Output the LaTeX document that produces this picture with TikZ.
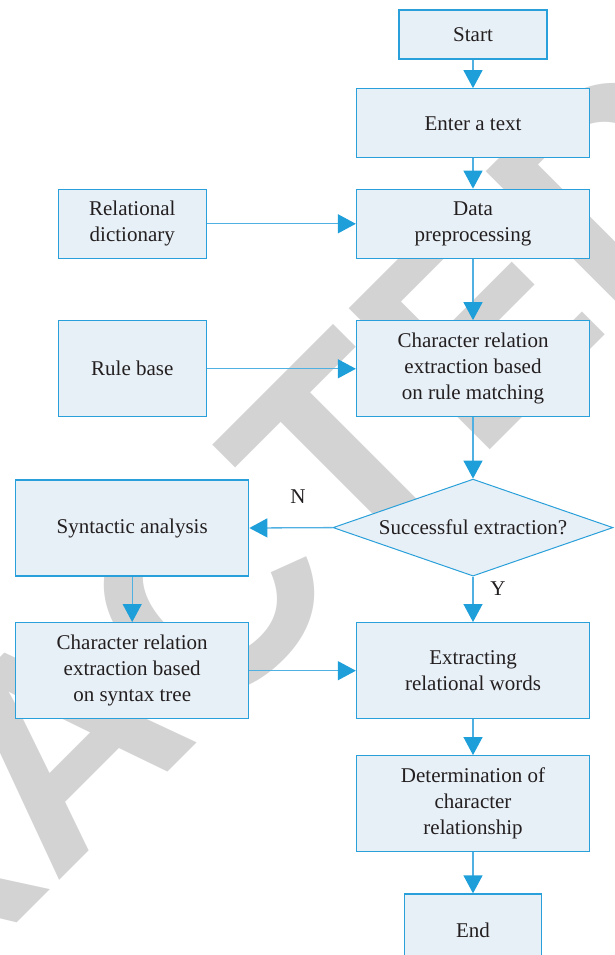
\documentclass[tikz,border=0pt]{standalone}
\usepackage{fontspec}
\setmainfont{Liberation Serif}
\newfontfamily\wmfamily{Liberation Sans}
\usetikzlibrary{arrows.meta,shapes.geometric}
\definecolor{boxline}{RGB}{41,160,218}
\definecolor{boxfill}{RGB}{232,240,247}
\definecolor{arrline}{RGB}{80,176,225}
\definecolor{tipcol}{RGB}{31,159,217}
\definecolor{txt}{RGB}{35,31,32}
\definecolor{wmgray}{RGB}{211,211,211}
\begin{document}
\begin{tikzpicture}[x=1pt,y=-1pt,
  box/.style={draw=boxline, fill=boxfill, line width=1.3pt, align=center, text=txt, inner sep=0pt, font=\fontsize{21}{26}\selectfont},
  decision/.style={diamond, aspect=2.887, draw=boxline, fill=boxfill, line width=1pt, text=txt, inner sep=0pt, font=\fontsize{21}{26}\selectfont},
  conn/.style={draw=arrline, line width=1.3pt, -{Triangle[length=18pt,width=19pt,color=tipcol]}},
  lbl/.style={text=txt, font=\fontsize{21}{26}\selectfont, inner sep=0pt}]
\useasboundingbox (0,0) rectangle (614,955);
\clip (0,0) rectangle (614,955);
\node[anchor=base, rotate=45, text=wmgray, inner sep=0pt, font=\wmfamily\bfseries\fontsize{290}{290}\selectfont] (wm) at (129,811) {RETRACTED};

\node[box, minimum width=148pt, minimum height=49pt] (start) at (473,34.5) {Start};
\node[box, minimum width=233pt, minimum height=69pt] (enter) at (473,123.3) {Enter a text};
\node[box, minimum width=233pt, minimum height=69pt] (data) at (473,223.8) {Data\\preprocessing};
\node[box, minimum width=148pt, minimum height=69pt] (dict) at (132.3,223.8) {Relational\\dictionary};
\node[box, minimum width=148pt, minimum height=96pt] (rules) at (132.3,368.8) {Rule base};
\node[box, minimum width=233pt, minimum height=96pt] (match) at (473,368.8) {Character relation\\extraction based\\on rule matching};
\node[decision, minimum width=280pt, minimum height=97pt] (succ) at (473,527.6) {Successful extraction?};
\node[box, minimum width=233pt, minimum height=96pt] (synt) at (132.2,528) {Syntactic analysis};
\node[box, minimum width=233pt, minimum height=96pt] (tree) at (132.2,670.7) {Character relation\\extraction based\\on syntax tree};
\node[box, minimum width=233pt, minimum height=96pt] (extr) at (473,670.7) {Extracting\\relational words};
\node[box, minimum width=233pt, minimum height=96pt] (det) at (473,803.7) {Determination of\\character\\relationship};
\node[box, minimum width=136.5pt, minimum height=72pt] (end) at (473,930) {End};

\node[lbl] (n) at (298,497) {N};
\node[lbl] (y) at (498,589) {Y};

\draw[conn] (start) -- (enter);
\draw[conn] (enter) -- (data);
\draw[conn] (data) -- (match);
\draw[conn] (dict) -- (data);
\draw[conn] (rules) -- (match);
\draw[conn] (match) -- (succ);
\draw[conn] (succ.west) -- (synt.east);
\draw[conn] (succ.south) -- (extr.north);
\draw[conn] (synt) -- (tree);
\draw[conn] (tree) -- (extr);
\draw[conn] (extr) -- (det);
\draw[conn] (det) -- (end);
\end{tikzpicture}
\end{document}
